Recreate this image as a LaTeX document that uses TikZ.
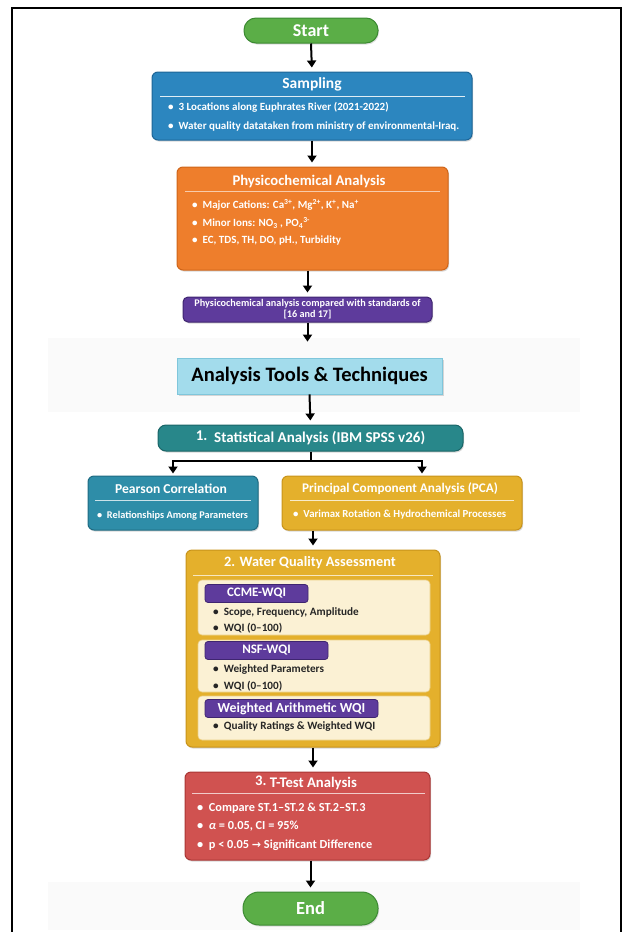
\documentclass[tikz,border=0pt]{standalone}
\usepackage{fontspec}
\setmainfont{Carlito}
\newfontfamily\djv{DejaVu Sans}
\usetikzlibrary{shadows,arrows.meta}
\definecolor{pillG}{HTML}{5BAE47}
\definecolor{pillGd}{HTML}{3C8A32}
\definecolor{sampB}{HTML}{2C86BF}
\definecolor{sampBd}{HTML}{1D6597}
\definecolor{orgF}{HTML}{EE7E2C}
\definecolor{orgD}{HTML}{CF6519}
\definecolor{purF}{HTML}{5E3B9C}
\definecolor{purD}{HTML}{3F2570}
\definecolor{ltB}{HTML}{A3DCEC}
\definecolor{ltBd}{HTML}{7FC6DB}
\definecolor{tealF}{HTML}{28878A}
\definecolor{tealD}{HTML}{1A6567}
\definecolor{pearF}{HTML}{2E8DA8}
\definecolor{pearD}{HTML}{1F6B82}
\definecolor{goldF}{HTML}{E4B02C}
\definecolor{goldD}{HTML}{C8931A}
\definecolor{creamF}{HTML}{FBF1D4}
\definecolor{creamD}{HTML}{EBCF86}
\definecolor{redF}{HTML}{D05250}
\definecolor{redD}{HTML}{A93634}
\newcommand{\fs}[1]{\bfseries\fontsize{#1}{#1}\selectfont}
\begin{document}
\begin{tikzpicture}[x=1pt,y=-1pt,
  box/.style={rounded corners=6pt, line width=1pt, inner sep=0pt,
    drop shadow={opacity=0.3,shadow xshift=1pt,shadow yshift=-1.5pt}},
  pill/.style={rounded corners=12pt, fill=pillG, draw=pillGd, line width=1pt, inner sep=0pt,
    text=white, font=\fs{18},
    drop shadow={opacity=0.25,shadow xshift=1pt,shadow yshift=-1.5pt}},
  ttl/.style={text=white, font=\fs{15.5}, inner sep=0pt},
  bl/.style={text=white, font=\fs{11}, inner sep=0pt, anchor=west},
  ibl/.style={text=black!85, font=\fs{11.2}, inner sep=0pt, anchor=west},
  tab/.style={rounded corners=3pt, fill=purF, draw=purD, line width=0.8pt, inner sep=0pt,
    text=white, font=\fs{13}},
  inner/.style={rounded corners=4pt, fill=creamF, draw=creamD, line width=0.6pt, inner sep=0pt},
  arr/.style={-{Triangle[width=9pt,length=7pt]}, line width=2pt, black, shorten >=4pt},
  sep/.style={line width=0.8pt}
]
\useasboundingbox (0,0) rectangle (627,932);
% faint background bands
\fill[black!2] (48,338) rectangle (580,412);
\fill[black!2] (48,882) rectangle (580,930);
% frame
\draw[line width=1.6pt] (12,940) -- (12,8) -- (621,8) -- (621,940);

% Start
\node[pill, minimum width=134pt, minimum height=25pt] (start) at (311,30.5) {Start};

% Sampling
\node[box, fill=sampB, draw=sampBd, minimum width=320pt, minimum height=68pt] (samp) at (312,106) {};
\node[ttl] (sampt) at (312,84) {Sampling};
\draw[sep, white!85!sampB] (160,96) -- (465,96);
\node[bl] (samp1) at (168,107) {\textbullet\ \ 3 Locations along Euphrates River (2021-2022)};
\node[bl] (samp2) at (168,127) {\textbullet\ \ Water quality datataken from ministry of environmental-Iraq.};

% Physicochemical
\node[box, fill=orgF, draw=orgD, minimum width=271pt, minimum height=103pt] (phys) at (312.5,218.5) {};
\node[ttl, font=\fs{14.7}] (physt) at (309,181) {Physicochemical Analysis};
\draw[sep, orgF!40!white] (185,191) -- (440,191);
\node[bl] (phys1) at (192,205) {\textbullet\ \ Major Cations: Ca\textsuperscript{3+}, Mg\textsuperscript{2+}, K\textsuperscript{+}, Na\textsuperscript{+}};
\node[bl] (phys2) at (192,223) {\textbullet\ \ Minor Ions: NO\textsubscript{3} , PO\textsubscript{4}\textsuperscript{3-}};
\node[bl] (phys3) at (192,241) {\textbullet\ \ EC, TDS, TH, DO, pH., Turbidity};

% Purple standards box
\node[box, rounded corners=5pt, fill=purF, draw=purD, minimum width=249pt, minimum height=25pt,
  text=white, font=\fs{10.2}, align=center] (std) at (307.5,309.5)
  {Physicochemical analysis compared with standards of\\[1pt]{}[16 and 17]};

% Analysis tools
\node[fill=ltB, draw=ltBd, line width=0.8pt, minimum width=265pt, minimum height=36pt, inner sep=0pt,
  drop shadow={opacity=0.3,shadow xshift=1.5pt,shadow yshift=-1.5pt},
  font=\fs{20.5}] (tools) at (309.5,376) {Analysis Tools \& Techniques};

% Statistical
\node[box, rounded corners=8pt, fill=tealF, draw=tealD, minimum width=305pt, minimum height=26pt,
  text=white, font=\fs{15}] (stat) at (310.5,438)
  {\raisebox{1.5pt}{1.}\ \ Statistical Analysis (IBM SPSS v26)};

% Pearson
\node[box, fill=pearF, draw=pearD, minimum width=170pt, minimum height=54pt] (pear) at (173,503) {};
\node[ttl, font=\fs{13.6}] (peart) at (171,489) {Pearson Correlation};
\draw[sep, white!75!pearF] (95,500) -- (251,500);
\node[bl, font=\fs{10.3}] (pear1) at (97,516) {\textbullet\ \ Relationships Among Parameters};

% PCA
\node[box, fill=goldF, draw=goldD, minimum width=240pt, minimum height=54pt] (pca) at (402,503) {};
\node[ttl, font=\fs{13.2}] (pcat) at (400,489) {Principal Component Analysis (PCA)};
\draw[sep, white!75!goldF] (290,500) -- (514,500);
\node[bl, font=\fs{10.8}] (pca1) at (293,515) {\textbullet\ \ Varimax Rotation \& Hydrochemical Processes};

% Water quality
\node[box, fill=goldF, draw=goldD, minimum width=254pt, minimum height=197pt] (wq) at (313,648.5) {};
\node[ttl, font=\fs{14.3}] (wqt) at (310,563) {2. Water Quality Assessment};
\draw[sep, white!70!goldF] (193,575) -- (433,575);

\node[inner, minimum width=232pt, minimum height=55pt] (ccme) at (314,607.5) {};
\node[tab, minimum width=103pt, minimum height=18pt] (ccmet) at (256.5,593.5) {CCME-WQI};
\node[ibl] (ccme1) at (213,612) {\textbullet\ \ Scope, Frequency, Amplitude};
\node[ibl] (ccme2) at (213,628) {\textbullet\ \ WQI (0–100)};

\node[inner, minimum width=232pt, minimum height=52pt] (nsf) at (314,666) {};
\node[tab, minimum width=123pt, minimum height=18pt] (nsft) at (266.5,650.5) {NSF-WQI};
\node[ibl] (nsf1) at (213,670) {\textbullet\ \ Weighted Parameters};
\node[ibl] (nsf2) at (213,686) {\textbullet\ \ WQI (0–100)};

\node[inner, minimum width=232pt, minimum height=44pt] (wa) at (314,718) {};
\node[tab, minimum width=173pt, minimum height=18pt, font=\fs{13.8}] (wat) at (291.5,708.5) {Weighted Arithmetic WQI};
\node[ibl] (wa1) at (213,727) {\textbullet\ \ Quality Ratings \& Weighted WQI};

% T-test
\node[box, fill=redF, draw=redD, minimum width=245pt, minimum height=88pt] (tt) at (307.5,816) {};
\node[ttl, font=\fs{14.7}] (ttt) at (306,783) {\raisebox{1.5pt}{3.} T-Test Analysis};
\draw[sep, white!70!redF] (192,793) -- (425,793);
\node[bl, font=\fs{12.3}] (tt1) at (197,808) {\textbullet\ \ Compare ST.1–ST.2 \& ST.2–ST.3};
\node[bl, font=\fs{12.3}] (tt2) at (197,826) {\textbullet\ \ \textit{α} = 0.05, CI = 95\%};
\node[bl, font=\fs{12.3}] (tt3) at (197,845) {\textbullet\ \ p < 0.05 {\djv\fontsize{11}{11}\selectfont →} Significant Difference};

% End
\node[pill, rounded corners=16pt, minimum width=135pt, minimum height=33pt, font=\fs{18.5}] (end) at (310.5,908.5) {End};

% connectors
\draw[arr] (start.south) -- (samp.north);
\draw[arr] (samp.south) -- (samp.south |- phys.north);
\draw[arr] (phys.south -| std.north) -- (std.north);
\draw[arr] (std.south) -- ([yshift=12pt]std.south |- tools.north);
\draw[arr] (tools.south) -- (stat.north);
\draw[line width=2pt] (stat.south) -- ++(0,9) coordinate (br);
\draw[arr, shorten >=2pt] (br) -| (pear.north);
\draw[arr, shorten >=2pt] (br) -| ([xshift=20pt]pca.north);
\draw[arr] (pca.south -| wq.north) -- (wq.north);
\draw[arr] (wq.south) -- (wq.south |- tt.north);
\draw[arr] (tt.south -| end.north) -- (end.north);
\end{tikzpicture}
\end{document}
